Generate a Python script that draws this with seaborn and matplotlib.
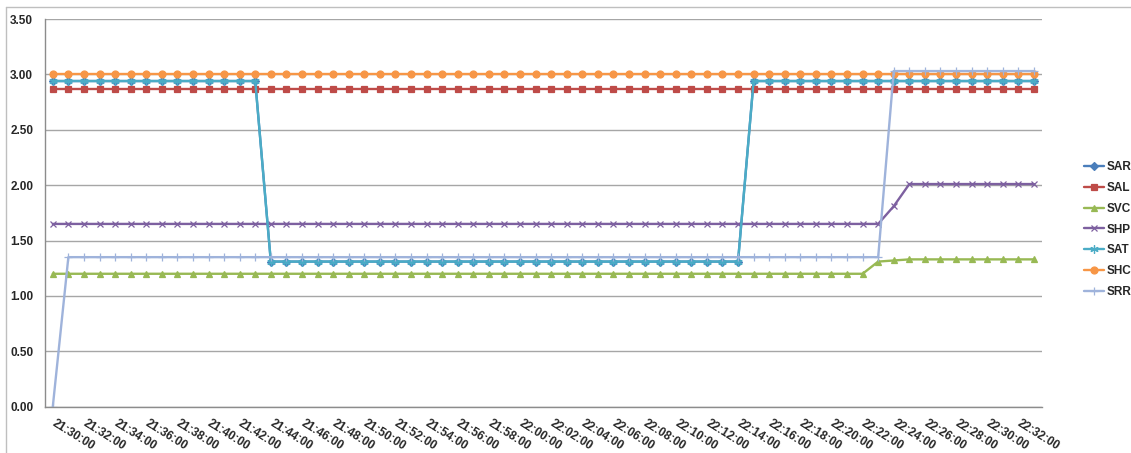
import numpy as np
import pandas as pd
import seaborn as sns
import matplotlib.pyplot as plt
from matplotlib.lines import Line2D

# categories: one reading per minute
times = pd.date_range("2013-01-01 21:30:00", "2013-01-01 22:33:00", freq="1min").strftime("%H:%M:%S").tolist()

SAR = [2.94, 2.94, 2.94, 2.94, 2.94, 2.94, 2.94, 2.94, 2.94, 2.94, 2.94, 2.94, 2.94, 2.94, 1.31, 1.31,
       1.31, 1.31, 1.31, 1.31, 1.31, 1.31, 1.31, 1.31, 1.31, 1.31, 1.31, 1.31, 1.31, 1.31, 1.31, 1.31,
       1.31, 1.31, 1.31, 1.31, 1.31, 1.31, 1.31, 1.31, 1.31, 1.31, 1.31, 1.31, 1.31, 2.94, 2.94, 2.94,
       2.94, 2.94, 2.94, 2.94, 2.94, 2.94, 2.94, 2.94, 2.94, 2.94, 2.94, 2.94, 2.94, 2.94, 2.94, 2.94]
SAL = [2.87, 2.87, 2.87, 2.87, 2.87, 2.87, 2.87, 2.87, 2.87, 2.87, 2.87, 2.87, 2.87, 2.87, 2.87, 2.87,
       2.87, 2.87, 2.87, 2.87, 2.87, 2.87, 2.87, 2.87, 2.87, 2.87, 2.87, 2.87, 2.87, 2.87, 2.87, 2.87,
       2.87, 2.87, 2.87, 2.87, 2.87, 2.87, 2.87, 2.87, 2.87, 2.87, 2.87, 2.87, 2.87, 2.87, 2.87, 2.87,
       2.87, 2.87, 2.87, 2.87, 2.87, 2.87, 2.87, 2.87, 2.87, 2.87, 2.87, 2.87, 2.87, 2.87, 2.87, 2.87]
SVC = [1.20, 1.20, 1.20, 1.20, 1.20, 1.20, 1.20, 1.20, 1.20, 1.20, 1.20, 1.20, 1.20, 1.20, 1.20, 1.20,
       1.20, 1.20, 1.20, 1.20, 1.20, 1.20, 1.20, 1.20, 1.20, 1.20, 1.20, 1.20, 1.20, 1.20, 1.20, 1.20,
       1.20, 1.20, 1.20, 1.20, 1.20, 1.20, 1.20, 1.20, 1.20, 1.20, 1.20, 1.20, 1.20, 1.20, 1.20, 1.20,
       1.20, 1.20, 1.20, 1.20, 1.20, 1.31, 1.32, 1.33, 1.33, 1.33, 1.33, 1.33, 1.33, 1.33, 1.33, 1.33]
SHP = [1.65, 1.65, 1.65, 1.65, 1.65, 1.65, 1.65, 1.65, 1.65, 1.65, 1.65, 1.65, 1.65, 1.65, 1.65, 1.65,
       1.65, 1.65, 1.65, 1.65, 1.65, 1.65, 1.65, 1.65, 1.65, 1.65, 1.65, 1.65, 1.65, 1.65, 1.65, 1.65,
       1.65, 1.65, 1.65, 1.65, 1.65, 1.65, 1.65, 1.65, 1.65, 1.65, 1.65, 1.65, 1.65, 1.65, 1.65, 1.65,
       1.65, 1.65, 1.65, 1.65, 1.65, 1.65, 1.81, 2.01, 2.01, 2.01, 2.01, 2.01, 2.01, 2.01, 2.01, 2.01]
SAT = [2.94, 2.94, 2.94, 2.94, 2.94, 2.94, 2.94, 2.94, 2.94, 2.94, 2.94, 2.94, 2.94, 2.94, 1.31, 1.31,
       1.31, 1.31, 1.31, 1.31, 1.31, 1.31, 1.31, 1.31, 1.31, 1.31, 1.31, 1.31, 1.31, 1.31, 1.31, 1.31,
       1.31, 1.31, 1.31, 1.31, 1.31, 1.31, 1.31, 1.31, 1.31, 1.31, 1.31, 1.31, 1.31, 2.94, 2.94, 2.94,
       2.94, 2.94, 2.94, 2.94, 2.94, 2.94, 2.94, 2.94, 2.94, 2.94, 2.94, 2.94, 2.94, 2.94, 2.94, 2.94]
SHC = [3.00, 3.00, 3.00, 3.00, 3.00, 3.00, 3.00, 3.00, 3.00, 3.00, 3.00, 3.00, 3.00, 3.00, 3.00, 3.00,
       3.00, 3.00, 3.00, 3.00, 3.00, 3.00, 3.00, 3.00, 3.00, 3.00, 3.00, 3.00, 3.00, 3.00, 3.00, 3.00,
       3.00, 3.00, 3.00, 3.00, 3.00, 3.00, 3.00, 3.00, 3.00, 3.00, 3.00, 3.00, 3.00, 3.00, 3.00, 3.00,
       3.00, 3.00, 3.00, 3.00, 3.00, 3.00, 3.00, 3.00, 3.00, 3.00, 3.00, 3.00, 3.00, 3.00, 3.00, 3.00]
SRR = [0.00, 1.35, 1.35, 1.35, 1.35, 1.35, 1.35, 1.35, 1.35, 1.35, 1.35, 1.35, 1.35, 1.35, 1.35, 1.35,
       1.35, 1.35, 1.35, 1.35, 1.35, 1.35, 1.35, 1.35, 1.35, 1.35, 1.35, 1.35, 1.35, 1.35, 1.35, 1.35,
       1.35, 1.35, 1.35, 1.35, 1.35, 1.35, 1.35, 1.35, 1.35, 1.35, 1.35, 1.35, 1.35, 1.35, 1.35, 1.35,
       1.35, 1.35, 1.35, 1.35, 1.35, 1.35, 3.03, 3.03, 3.03, 3.03, 3.03, 3.03, 3.03, 3.03, 3.03, 3.03]

series = [
    ("SAR", SAR, "#4A7EBB", "D", 4.0),
    ("SAL", SAL, "#BE4B48", "s", 4.5),
    ("SVC", SVC, "#98B954", "^", 5.0),
    ("SHP", SHP, "#7D60A0", "x", 5.0),
    ("SAT", SAT, "#4BACC6", (6, 2, 0), 6.0),
    ("SHC", SHC, "#F79646", "o", 5.0),
    ("SRR", SRR, "#9FB3DB", "+", 5.5),
]

sns.set_style("white")
plt.rcParams['font.family'] = ['Liberation Sans', 'DejaVu Sans']
plt.rcParams['font.weight'] = 'bold'
fs = 8.5

fig = plt.figure(figsize=(11.31, 4.53), dpi=100)
ax = fig.add_axes([45 / 1131, 1 - 406.7 / 453, (1041.7 - 45) / 1131, (406.7 - 19) / 453])

x = np.arange(len(times))
handles = []
for name, vals, col, mk, ms in series:
    sns.lineplot(x=x, y=vals, ax=ax, color=col, linewidth=1.7, marker=mk, markersize=ms,
                 markeredgecolor=col, markeredgewidth=0.9, legend=False)
    handles.append(Line2D([], [], color=col, linewidth=1.7, marker=mk, markersize=ms,
                          markeredgecolor=col, markeredgewidth=0.9, label=name))

ax.set_xlim(-0.5, len(times) - 0.5)
ax.set_ylim(0, 3.5)
ax.set_yticks(np.arange(0, 3.51, 0.5))
ax.set_yticklabels([f"{v:.2f}" for v in np.arange(0, 3.51, 0.5)], fontsize=fs, fontweight='bold')
ax.yaxis.grid(True, color="#A6A6A6", linewidth=1.0)
ax.set_axisbelow(True)

ax.set_xticks(x[::2])
ax.set_xticklabels(times[::2], rotation=-32, ha='left', va='center', rotation_mode='anchor',
                   fontsize=fs, fontweight='bold')
ax.set_xticks(np.arange(-0.5, len(times)), minor=True)
ax.tick_params(axis='x', which='major', length=0, pad=11)
ax.tick_params(axis='x', which='minor', length=3.5, color="#8C8C8C", width=0.8, direction='out')
ax.tick_params(axis='y', length=3.5, color="#8C8C8C", width=0.8, direction='out', pad=5)
for side in ["top", "right"]:
    ax.spines[side].set_visible(False)
for side in ["left", "bottom"]:
    ax.spines[side].set_color("#8C8C8C")
    ax.spines[side].set_linewidth(1.0)
ax.set_xlabel("")
ax.set_ylabel("")

fig.legend(handles=handles, loc='upper left', bbox_to_anchor=(1084 / 1131, 1 - 161 / 453),
           frameon=False, handlelength=1.7, handletextpad=0.2, labelspacing=0.75,
           borderpad=0, borderaxespad=0, prop={'weight': 'bold', 'size': fs})

# light outer chart border (left and top)
fig.add_artist(Line2D([6 / 1131, 6 / 1131], [0, 1 - 7 / 453], color="#BFBFBF", linewidth=1.0))
fig.add_artist(Line2D([6 / 1131, 1], [1 - 7 / 453, 1 - 7 / 453], color="#BFBFBF", linewidth=1.0))

fig.savefig("out.png", dpi=100)
